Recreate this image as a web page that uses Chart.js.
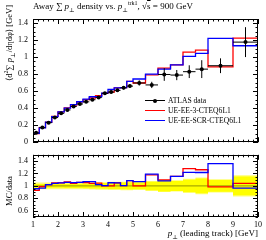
<!DOCTYPE html>
<html>
<head>
<meta charset="utf-8">
<script src="https://cdn.jsdelivr.net/npm/chart.js@4.4.1/dist/chart.umd.min.js"></script>
<style>
  body { margin: 0; background: #fff; }
  #wrap { position: relative; width: 266px; height: 240px; overflow: hidden;
          font-family: "Liberation Serif", "DejaVu Serif", serif; color: #000; }
  canvas { position: absolute; left: 0; }
  .t { position: absolute; white-space: nowrap; font-size: 9px; line-height: 10px; }
  .t sub, .t sup { font-size: 6px; line-height: 0; }
  .leg { font-size: 7.6px; }
  .sw { position: absolute; height: 0; }
  .dot { position: absolute; width: 4px; height: 4px; border-radius: 50%; background: #000; }
</style>
</head>
<body>
<div id="wrap">
  <canvas id="mainChart" width="266" height="152" style="top:0"></canvas>
  <canvas id="ratioChart" width="266" height="95" style="top:145px"></canvas>

  <div class="t" style="left:33px;top:1px">Away &sum; <i>p</i><sub>&perp;</sub> density vs. <i>p</i><sub>&perp;</sub><sup>trk1</sup>, &radic;<span style="text-decoration:overline">s</span> = 900 GeV</div>
  <div class="t" style="left:9px;top:43px;font-size:8.5px;transform:translate(-50%,-50%) rotate(-90deg)">&lang;d<sup>2</sup>&sum; <i>p</i><sub>&perp;</sub>/d&eta;d&phi;&rang; [GeV]</div>
  <div class="t" style="left:9px;top:191px;font-size:8.5px;transform:translate(-50%,-50%) rotate(-90deg)">MC/data</div>
  <div class="t" style="right:8px;top:228px"><i>p</i><sub>&perp;</sub> (leading track) [GeV]</div>

  <!-- legend -->
  <div class="sw" style="left:145px;top:100px;width:20px;border-top:1px solid #000"></div>
  <div class="dot" style="left:153px;top:98.5px"></div>
  <div class="sw" style="left:145px;top:110px;width:20px;border-top:1.3px solid #ff0000"></div>
  <div class="sw" style="left:145px;top:120px;width:20px;border-top:1.3px solid #0000ff"></div>
  <div class="t leg" style="left:168px;top:95.5px">ATLAS data</div>
  <div class="t leg" style="left:168px;top:105.5px">UE-EE-3-CTEQ6L1</div>
  <div class="t leg" style="left:168px;top:115.5px">UE-EE-SCR-CTEQ6L1</div>
</div>

<script>
// bin edges of p_T (leading track)
const edges = [1, 1.25, 1.5, 1.75, 2, 2.25, 2.5, 2.75, 3, 3.25, 3.5, 3.75, 4,
  4.25, 4.5, 4.75, 5, 5.5, 6, 6.5, 7, 7.5, 8, 9, 10];

const atlasData = [0.110, 0.174, 0.230, 0.290, 0.340, 0.380, 0.420, 0.450, 0.475, 0.500,
  0.525, 0.575, 0.590, 0.610, 0.640, 0.660, 0.697, 0.674, 0.797, 0.790, 0.830, 0.860, 0.900, 1.178];
const atlasErr = [0.005, 0.006, 0.007, 0.008, 0.009, 0.010, 0.010, 0.011, 0.012, 0.013,
  0.014, 0.015, 0.017, 0.018, 0.020, 0.022, 0.031, 0.037, 0.075, 0.060, 0.075, 0.105, 0.087, 0.176];

const ee3 = [0.102, 0.172, 0.235, 0.304, 0.356, 0.405, 0.438, 0.476, 0.500, 0.520,
  0.548, 0.575, 0.590, 0.640, 0.643, 0.717, 0.697, 0.793, 0.873, 0.910, 1.060, 1.083, 0.887, 1.225];
const eeScr = [0.105, 0.168, 0.235, 0.302, 0.356, 0.402, 0.442, 0.476, 0.507, 0.535,
  0.536, 0.578, 0.620, 0.640, 0.643, 0.717, 0.744, 0.802, 0.861, 0.910, 1.010, 1.045, 1.221, 1.135];

// relative data uncertainty band in the ratio panel
const bandTot = [0.055, 0.055, 0.055, 0.055, 0.055, 0.055, 0.055, 0.055, 0.055, 0.058,
  0.060, 0.060, 0.065, 0.065, 0.068, 0.070, 0.065, 0.080, 0.100, 0.090, 0.115, 0.135, 0.105, 0.170];
const bandStat = [0.030, 0.030, 0.030, 0.030, 0.030, 0.032, 0.032, 0.034, 0.036, 0.040,
  0.042, 0.045, 0.050, 0.050, 0.055, 0.058, 0.055, 0.068, 0.090, 0.080, 0.100, 0.120, 0.095, 0.150];

const xTicks = [1, 2, 3, 4, 5, 6, 7, 8, 9, 10];
const mainYTicks = [0, 0.2, 0.4, 0.6, 0.8, 1, 1.2, 1.4];
const ratioYTicks = [0.6, 0.8, 1, 1.2, 1.4];

Chart.defaults.font.family = '"Liberation Serif", "DejaVu Serif", serif';
Chart.defaults.font.size = 8;
Chart.defaults.color = '#000';

function histPoints(vals) {
  const pts = [];
  vals.forEach((v, i) => {
    pts.push({x: edges[i], y: v});
    pts.push({x: edges[i + 1], y: v});
  });
  return pts;
}

const centers = atlasData.map((v, i) => ({x: (edges[i] + edges[i + 1]) / 2, y: v}));

// inward tick marks and frame, rivet style
const frameTicks = {
  id: 'frameTicks',
  afterDatasetsDraw(chart, args, opts) {
    const {ctx, chartArea: a, scales: {x, y}} = chart;
    ctx.save();
    ctx.strokeStyle = '#000';
    ctx.lineWidth = 1;
    ctx.beginPath();
    const nx = Math.round((x.max - x.min) / opts.xMinor);
    for (let i = 0; i <= nx; i++) {
      const v = x.min + i * opts.xMinor;
      const major = Math.abs(v - Math.round(v)) < 1e-6;
      const len = major ? 5 : 2.5;
      const px = Math.round(x.getPixelForValue(v)) + 0.5;
      ctx.moveTo(px, a.bottom); ctx.lineTo(px, a.bottom - len);
      ctx.moveTo(px, a.top); ctx.lineTo(px, a.top + len);
    }
    const ny = Math.round((y.max - opts.yStart) / opts.yMinor);
    for (let i = 0; i <= ny; i++) {
      const v = opts.yStart + i * opts.yMinor;
      const major = opts.yMajor.some(m => Math.abs(m - v) < 1e-6);
      const len = major ? 5 : 2.5;
      const py = Math.round(y.getPixelForValue(v)) + 0.5;
      ctx.moveTo(a.left, py); ctx.lineTo(a.left + len, py);
      ctx.moveTo(a.right, py); ctx.lineTo(a.right - len, py);
    }
    ctx.stroke();
    ctx.strokeRect(Math.round(a.left) + 0.5, Math.round(a.top) + 0.5,
      Math.round(a.right - a.left) - 1, Math.round(a.bottom - a.top) - 1);
    ctx.restore();
  }
};

// data error bars (x = bin width, y = uncertainty)
const errorBars = {
  id: 'errorBars',
  afterDatasetsDraw(chart) {
    const {ctx, scales: {x, y}} = chart;
    ctx.save();
    ctx.strokeStyle = '#000';
    ctx.lineWidth = 1;
    ctx.beginPath();
    atlasData.forEach((v, i) => {
      const cx = x.getPixelForValue((edges[i] + edges[i + 1]) / 2);
      const cy = y.getPixelForValue(v);
      ctx.moveTo(x.getPixelForValue(edges[i]), cy);
      ctx.lineTo(x.getPixelForValue(edges[i + 1]), cy);
      ctx.moveTo(cx, y.getPixelForValue(v - atlasErr[i]));
      ctx.lineTo(cx, y.getPixelForValue(v + atlasErr[i]));
    });
    ctx.stroke();
    ctx.restore();
  }
};

function fixedTicks(list) {
  return scale => { scale.ticks = list.map(v => ({value: v})); };
}

const noGrid = {display: false, drawTicks: false};

new Chart(document.getElementById('mainChart'), {
  type: 'line',
  data: {
    datasets: [
      {data: centers, showLine: false, pointRadius: 2, pointBackgroundColor: '#000',
       pointBorderWidth: 0},
      {data: histPoints(eeScr), borderColor: '#0000ff', borderWidth: 1.3, pointRadius: 0},
      {data: histPoints(ee3), borderColor: '#ff0000', borderWidth: 1.3, pointRadius: 0}
    ]
  },
  options: {
    responsive: false,
    animation: false,
    events: [],
    layout: {padding: {left: 0, right: 8, top: 19, bottom: 2}},
    plugins: {
      legend: {display: false},
      tooltip: {enabled: false},
      frameTicks: {xMinor: 0.2, yMinor: 0.05, yStart: 0, yMajor: mainYTicks}
    },
    scales: {
      x: {type: 'linear', min: 1, max: 10, display: false},
      y: {
        type: 'linear', min: 0, max: 1.45,
        afterFit: s => { s.width = 33; },
        afterBuildTicks: fixedTicks(mainYTicks),
        grid: noGrid,
        border: {display: false},
        ticks: {padding: 5, callback: v => String(v)}
      }
    }
  },
  plugins: [errorBars, frameTicks]
});

const ratio = (mc) => histPoints(mc.map((v, i) => v / atlasData[i]));

new Chart(document.getElementById('ratioChart'), {
  type: 'line',
  data: {
    datasets: [
      {data: ratio(eeScr), borderColor: '#0000ff', borderWidth: 1.3, pointRadius: 0},
      {data: ratio(ee3), borderColor: '#ff0000', borderWidth: 1.3, pointRadius: 0},
      {data: [{x: 1, y: 1}, {x: 10, y: 1}], borderColor: 'rgba(60,60,0,0.55)', borderWidth: 1, pointRadius: 0},
      {data: histPoints(bandStat.map(e => 1 + e)), borderWidth: 0, pointRadius: 0,
       fill: '+1', backgroundColor: '#ffff00'},
      {data: histPoints(bandStat.map(e => 1 - e)), borderWidth: 0, pointRadius: 0},
      {data: histPoints(bandTot.map(e => 1 + e)), borderWidth: 0, pointRadius: 0,
       fill: '+1', backgroundColor: '#ffff70'},
      {data: histPoints(bandTot.map(e => 1 - e)), borderWidth: 0, pointRadius: 0}
    ]
  },
  options: {
    responsive: false,
    animation: false,
    events: [],
    layout: {padding: {left: 0, right: 8, top: 5, bottom: 9}},
    plugins: {
      legend: {display: false},
      tooltip: {enabled: false},
      frameTicks: {xMinor: 0.2, yMinor: 0.05, yStart: 0.5, yMajor: ratioYTicks}
    },
    scales: {
      x: {
        type: 'linear', min: 1, max: 10,
        afterFit: s => { s.height = 14; },
        afterBuildTicks: fixedTicks(xTicks),
        grid: noGrid,
        border: {display: false},
        ticks: {padding: 3, maxRotation: 0, callback: v => String(v)}
      },
      y: {
        type: 'linear', min: 0.5, max: 1.5,
        afterFit: s => { s.width = 33; },
        afterBuildTicks: fixedTicks(ratioYTicks),
        grid: noGrid,
        border: {display: false},
        ticks: {padding: 5, callback: v => String(v)}
      }
    }
  },
  plugins: [frameTicks]
});
</script>
</body>
</html>
